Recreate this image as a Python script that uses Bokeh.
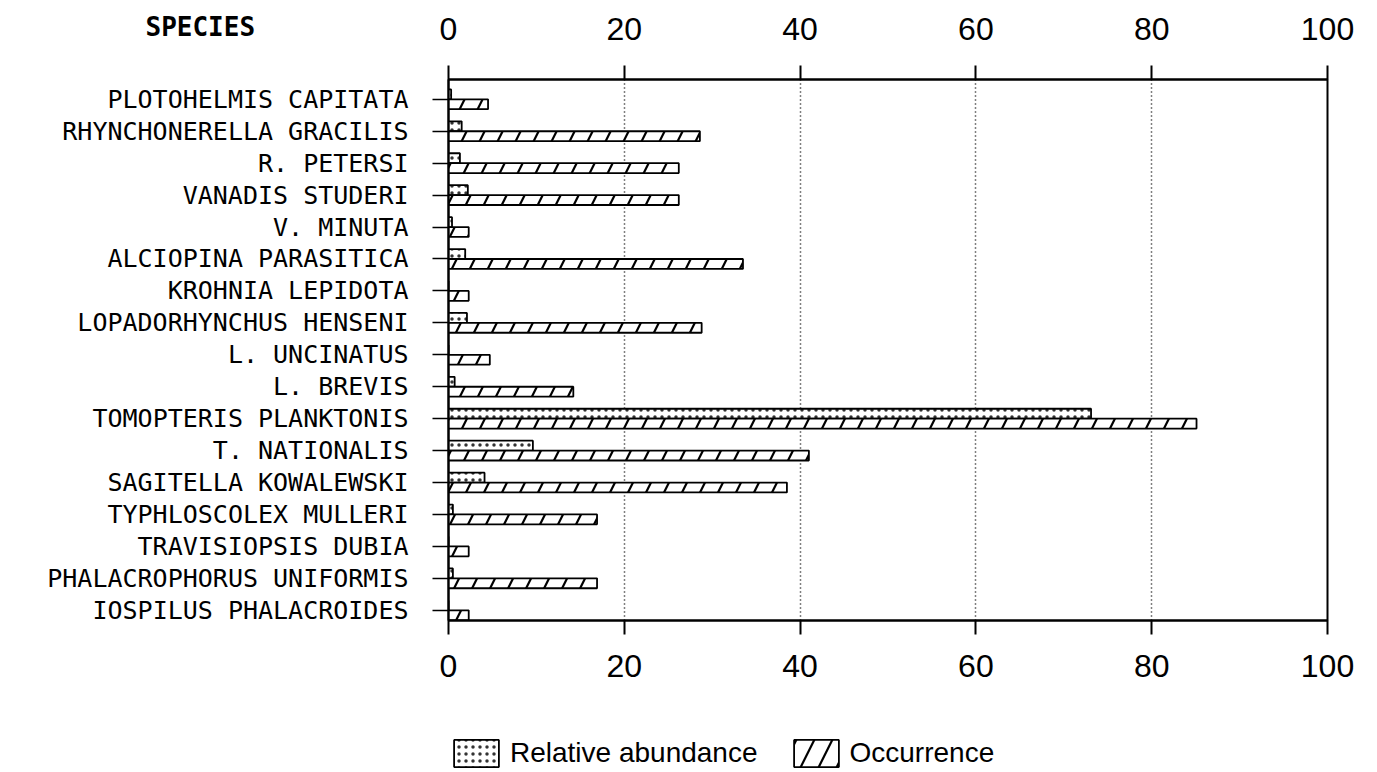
from bokeh.plotting import figure
from bokeh.layouts import column
from bokeh.models import (Range1d, LinearAxis, FixedTicker, Legend, LegendItem,
                          ColumnDataSource)
from bokeh.core.properties import value
from bokeh.embed import file_html
from bokeh.resources import INLINE

# ---------------- data ----------------
species = [
    "Plotohelmis capitata", "Rhynchonerella gracilis", "R. petersi",
    "Vanadis studeri", "V. minuta", "Alciopina parasitica",
    "Krohnia lepidota", "Lopadorhynchus henseni", "L. uncinatus",
    "L. brevis", "Tomopteris planktonis", "T. nationalis",
    "Sagitella kowalewski", "Typhloscolex mulleri", "Travisiopsis dubia",
    "Phalacrophorus uniformis", "Iospilus phalacroides",
]
abundance = [0.3, 1.5, 1.3, 2.2, 0.4, 1.9, 0.0, 2.1, 0.0, 0.7,
             73.1, 9.6, 4.1, 0.5, 0.0, 0.5, 0.0]
occurrence = [4.5, 28.6, 26.2, 26.2, 2.3, 33.5, 2.3, 28.8, 4.7, 14.2,
              85.1, 41.0, 38.5, 16.9, 2.3, 16.9, 2.3]
x_ticks = [0, 20, 40, 60, 80, 100]
grid_ticks = [20, 40, 60, 80]
title_text = "SPECIES"
legend_labels = ["Relative abundance", "Occurrence"]

# ---------------- styles ----------------
ABUND_STYLE = dict(fill_color="white", line_color="black", line_width=1.8,
                   hatch_pattern=".", hatch_scale=7, hatch_weight=1,
                   hatch_color="black", hatch_alpha=0.8)
OCC_STYLE = dict(fill_color="white", line_color="black", line_width=1.8,
                 hatch_pattern="/", hatch_scale=36, hatch_weight=2.2,
                 hatch_color="black")

# ---------------- main chart ----------------
n = len(species)
ypos = [n - 1 - i for i in range(n)]
BAR_H = 0.31
src = ColumnDataSource(dict(
    ya=[y + BAR_H / 2 for y in ypos],
    yo=[y - BAR_H / 2 for y in ypos],
    abund=abundance, occ=occurrence,
))
y_start, y_end = -0.32, (n - 1) + 0.62

p = figure(width=1377, height=700, output_backend="svg", toolbar_location=None,
           title=None,
           x_range=Range1d(0, 100), y_range=Range1d(y_start, y_end),
           min_border_left=448, min_border_right=50,
           min_border_top=79, min_border_bottom=80)
p.background_fill_color = "white"
p.border_fill_color = "white"
p.outline_line_color = "black"
p.outline_line_width = 2

ra = p.hbar(y="ya", left=0, right="abund", height=BAR_H, source=src, **ABUND_STYLE)
ro = p.hbar(y="yo", left=0, right="occ", height=BAR_H, source=src, **OCC_STYLE)

p.ygrid.visible = False
p.xgrid.ticker = FixedTicker(ticks=grid_ticks)
p.xgrid.grid_line_color = "black"
p.xgrid.grid_line_dash = "1 3"
p.xgrid.grid_line_width = 1.5

top_axis = LinearAxis()
p.add_layout(top_axis, "above")
for ax, standoff in ((p.below[0], 20), (top_axis, 26)):
    ax.ticker = FixedTicker(ticks=x_ticks)
    ax.major_label_text_font = "Liberation Sans"
    ax.major_label_text_font_size = "32px"
    ax.major_label_text_color = "black"
    ax.major_tick_out = 14
    ax.major_tick_in = 0
    ax.minor_tick_out = 0
    ax.minor_tick_in = 0
    ax.major_tick_line_width = 2
    ax.axis_line_width = 2
    ax.major_label_standoff = standoff

ya_ax = p.left[0]
ya_ax.ticker = FixedTicker(ticks=ypos)
ya_ax.major_label_overrides = {y: s.upper() for y, s in zip(ypos, species)}
ya_ax.major_label_text_font = "DejaVu Sans Mono"
ya_ax.major_label_text_font_size = "25px"
ya_ax.major_label_text_color = "black"
ya_ax.major_tick_out = 16
ya_ax.major_tick_in = 0
ya_ax.minor_tick_out = 0
ya_ax.minor_tick_in = 0
ya_ax.major_tick_line_width = 1.5
ya_ax.axis_line_width = 2
ya_ax.major_label_standoff = 24

p.text(x=[0], y=[y_end], text=[title_text], x_offset=-303, y_offset=-53,
       text_font=value("DejaVu Sans Mono"), text_font_style="bold",
       text_font_size="26px", text_align="left", text_baseline="alphabetic",
       text_color="black", level="overlay")

# ---------------- legend strip ----------------
lg = figure(width=1377, height=72, output_backend="svg", toolbar_location=None,
            title=None, x_axis_type=None, y_axis_type=None,
            x_range=Range1d(0, 1), y_range=Range1d(0, 1),
            min_border=0, min_border_left=0, min_border_right=0,
            min_border_top=0, min_border_bottom=0)
lg.outline_line_color = None
lg.background_fill_color = "white"
lg.border_fill_color = "white"
lg.grid.visible = False
la = lg.hbar(y="ya", left=0, right="abund", height=BAR_H, source=src,
             visible=False, **ABUND_STYLE)
lo = lg.hbar(y="yo", left=0, right="occ", height=BAR_H, source=src,
             visible=False, **OCC_STYLE)
legend = Legend(items=[LegendItem(label=legend_labels[0], renderers=[la]),
                       LegendItem(label=legend_labels[1], renderers=[lo])],
                location=(0, 2), orientation="horizontal",
                glyph_width=56, glyph_height=34, label_standoff=6, spacing=30,
                padding=0, margin=0, border_line_alpha=0, background_fill_alpha=0,
                inactive_fill_alpha=0,
                label_text_font="Liberation Sans", label_text_font_size="28px",
                label_text_color="black")
lg.add_layout(legend)

page = column(p, lg, spacing=0)
open("out.html", "w").write(file_html(page, INLINE))
